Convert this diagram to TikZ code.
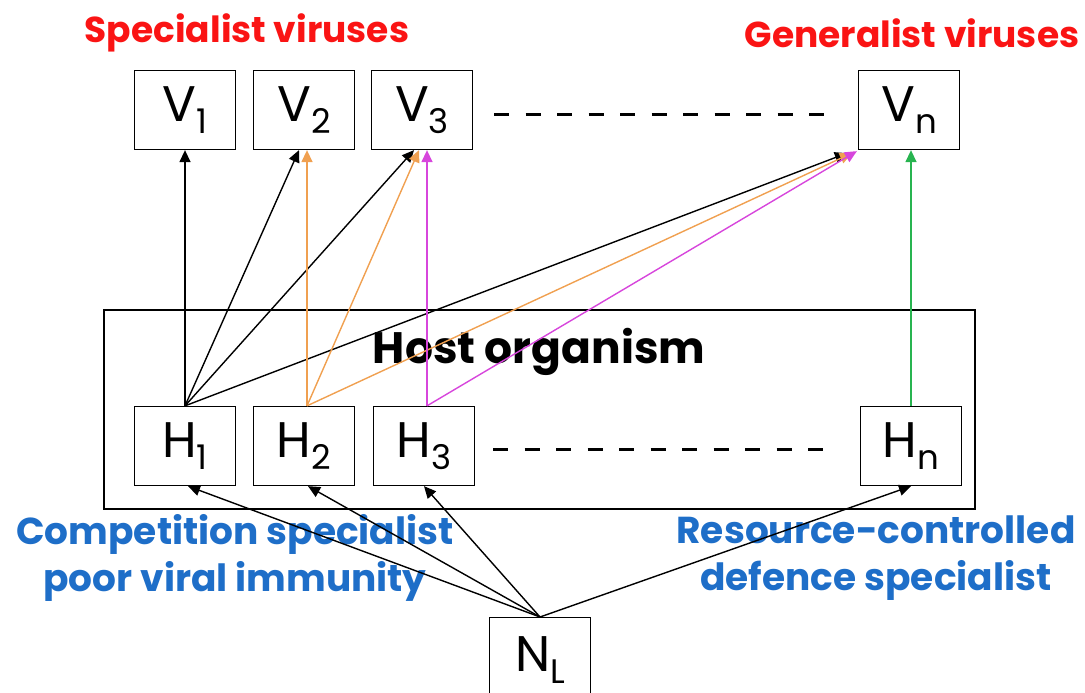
\documentclass[tikz,border=0pt]{standalone}
\usepackage{fontspec}
\setmainfont{Poppins}
\usetikzlibrary{arrows.meta,calc}
\definecolor{tred}{RGB}{250,20,20}
\definecolor{tblue}{RGB}{30,110,200}
\definecolor{torange}{RGB}{240,160,80}
\definecolor{tmag}{RGB}{215,70,220}
\definecolor{tgreen}{RGB}{40,180,80}
\newcommand{\lowsub}[1]{\raisebox{-12pt}{\fontsize{34}{34}\selectfont #1}}
\tikzset{
  box/.style={draw, line width=1.3pt, minimum width=101pt, minimum height=79pt, inner sep=0pt,
    font=\fontsize{50}{50}\selectfont},
  title/.style={text=tred, font=\bfseries\fontsize{36}{36}\selectfont, inner sep=0pt},
  blab/.style={text=tblue, font=\bfseries\fontsize{37.5}{47}\selectfont, inner sep=0pt, align=center},
  arr/.style={line width=1.4pt, -{Triangle[length=12pt,width=11pt]}},
  dline/.style={line width=3pt, dash pattern=on 15pt off 16.5pt},
}
\begin{document}
\begin{tikzpicture}[x=1pt,y=-1pt]
\useasboundingbox (0,0) rectangle (1085,693);
% titles
\node[title] (ts) at (247,33) {Specialist viruses};
\node[title] (tg) at (912,33) {Generalist viruses};
% host box
\node[draw, line width=1.3pt, minimum width=871pt, minimum height=199pt, inner sep=0pt] (host) at (539.5,409.5) {};
\node[font=\bfseries\fontsize{44}{44}\selectfont, inner sep=0pt] (hostlab) at (539,352) {Host organism};
% blue labels
\node[blab] (lc) at (235,558) {Competition specialist\\poor viral immunity};
\node[blab] (lr) at (876,558) {Resource-controlled\\defence specialist};
% virus boxes
\node[box] (v1) at (185,110) {V\lowsub{1}};
\node[box] (v2) at (304,110) {V\lowsub{2}};
\node[box] (v3) at (422,110) {V\lowsub{3}};
\node[box] (vn) at (909,110) {V\lowsub{n}};
% host boxes
\node[box] (h1) at (185,446) {H\lowsub{1}};
\node[box] (h2) at (304,446) {H\lowsub{2}};
\node[box] (h3) at (424,446) {H\lowsub{3}};
\node[box] (hn) at (911,446) {H\lowsub{n}};
% resource box
\node[box, minimum height=84pt, anchor=north] (nl) at (540,617) {N\lowsub{L}};
% dashed
\draw[dline] ($(v3.east)+(21,4)$) -- ($(vn.west)+(-19,4)$);
\draw[dline] ($(h3.east)+(18,3)$) -- ($(hn.west)+(-21,3)$);
% black
\draw[arr] (h1.north) -- (v1.south);
\draw[arr] (h1.north) -- ($(v2.south)+(-5,0)$);
\draw[arr] (h1.north) -- ($(v3.south)+(-8,0)$);
\draw[arr] (h1.north) -- ($(vn.south west)+(-11,3)$);
% orange
\draw[arr, torange] ($(h2.north)+(3,0)$) -- ($(v2.south)+(3,0)$);
\draw[arr, torange] ($(h2.north)+(3,0)$) -- ($(v3.south)+(-3,0)$);
\draw[arr, torange] ($(h2.north)+(3,0)$) -- ($(vn.south west)+(-6,3)$);
% magenta
\draw[arr, tmag] ($(h3.north)+(3,0)$) -- ($(h3.north |- v3.south)+(3,0)$);
\draw[arr, tmag] ($(h3.north)+(3,0)$) -- ($(vn.south west)+(-1,1)$);
% green
\draw[arr, tgreen] (hn.north) -- (hn.north |- vn.south);
% resource arrows
\draw[arr] (nl.north) -- ($(h1.south)+(3,0)$);
\draw[arr] (nl.north) -- ($(h2.south)+(4,0)$);
\draw[arr] (nl.north) -- (h3.south);
\draw[arr] (nl.north) -- (hn.south);
\end{tikzpicture}
\end{document}
